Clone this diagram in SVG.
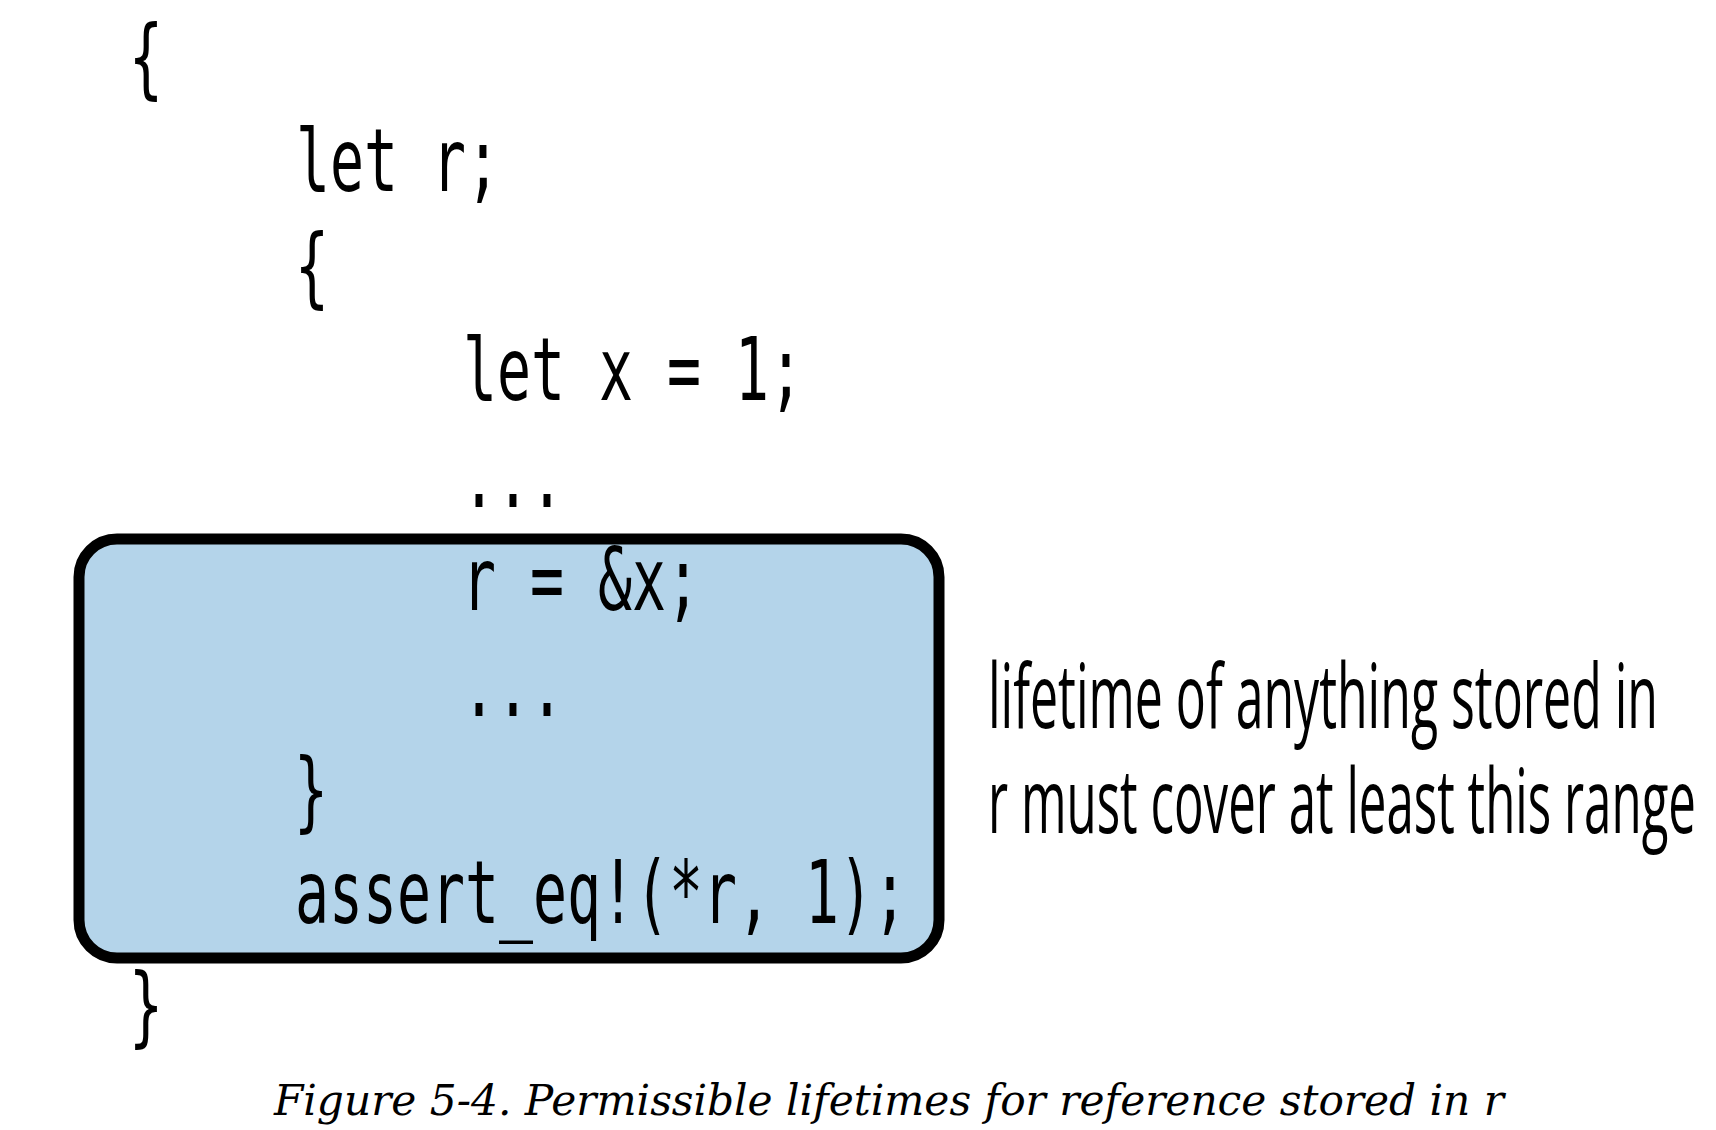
<svg xmlns="http://www.w3.org/2000/svg" width="1716" height="1130" viewBox="0 0 1716 1130">
<style>
.code{font-family:"DejaVu Sans Mono","Liberation Mono",monospace;font-size:87px;fill:#000}
.label{font-family:"Open Sans","Noto Sans","Liberation Sans",sans-serif;font-size:90px;fill:#000}
.cap{font-family:"DejaVu Serif","Liberation Serif",serif;font-style:italic;font-size:42px;fill:#000}
.box{fill:#b4d4ea;stroke:#000;stroke-width:11}
</style>
<rect width="1716" height="1130" fill="#fff"/>
<g id="range-box">
<rect class="box" x="79" y="539" width="860" height="419" rx="38" ry="38"/>
</g>
<g id="code">
<text class="code" x="129" y="86.5" textLength="34" lengthAdjust="spacingAndGlyphs">{</text>
<text class="code" x="296" y="191" textLength="204" lengthAdjust="spacingAndGlyphs">let r;</text>
<text class="code" x="295" y="295.5" textLength="34" lengthAdjust="spacingAndGlyphs">{</text>
<text class="code" x="463" y="400" textLength="340" lengthAdjust="spacingAndGlyphs">let x = 1;</text>
<text class="code" x="462" y="507" textLength="102" lengthAdjust="spacingAndGlyphs">...</text>
<text class="code" x="462" y="610" textLength="238" lengthAdjust="spacingAndGlyphs">r = &amp;x;</text>
<text class="code" x="462" y="716" textLength="102" lengthAdjust="spacingAndGlyphs">...</text>
<text class="code" x="294" y="820" textLength="34" lengthAdjust="spacingAndGlyphs">}</text>
<text class="code" x="295" y="923" textLength="612" lengthAdjust="spacingAndGlyphs">assert_eq!(*r, 1);</text>
<text class="code" x="129" y="1035" textLength="34" lengthAdjust="spacingAndGlyphs">}</text>
</g>
<g id="label">
<text class="label" x="988" y="728" textLength="670" lengthAdjust="spacingAndGlyphs">lifetime of anything stored in</text>
<text class="label" x="988" y="833" textLength="708" lengthAdjust="spacingAndGlyphs">r must cover at least this range</text>
</g>
<g id="caption">
<text class="cap" x="274" y="1115" textLength="1230" lengthAdjust="spacingAndGlyphs">Figure 5-4. Permissible lifetimes for reference stored in r</text>
</g>
</svg>
